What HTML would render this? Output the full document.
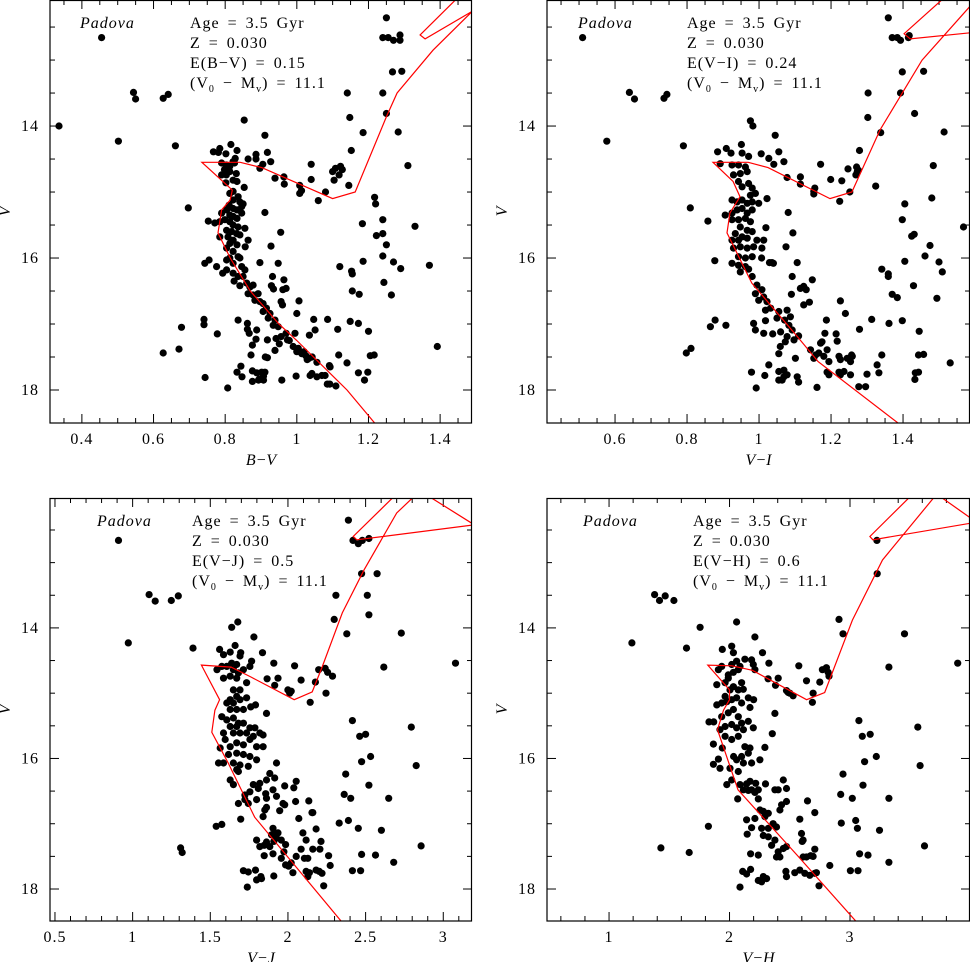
<!DOCTYPE html>
<html><head><meta charset="utf-8"><style>
html,body{margin:0;padding:0;background:#fff;}
svg{display:block;font-family:"Liberation Serif",serif;}
</style></head><body>
<svg id="chart" width="970" height="962" viewBox="0 0 970 962" xmlns="http://www.w3.org/2000/svg"></svg>
<script>
// ---------- DATA ----------
const starsBV = [[0.455,12.66],[0.336,14.0],[0.502,14.23],[0.544,13.49],[0.55,13.59],[0.627,13.58],[0.641,13.52],[0.661,14.30],[0.853,13.91],[0.697,15.24],[0.911,14.14],[1.25,12.36],[1.24,12.66],[1.255,12.66],[1.27,12.7],[1.288,12.62],[1.288,12.7],[1.267,13.18],[1.293,13.17],[1.141,13.5],[1.24,13.5],[1.148,13.87],[1.25,13.81],[1.185,14.1],[1.283,14.09],[1.152,14.37],[1.31,14.6],[1.04,14.58],[1.04,14.81],[1.10,14.69],[1.108,14.64],[1.122,14.61],[1.118,14.74],[1.127,14.66],[1.104,14.82],[1.145,14.9],[1.08,15.0],[1.06,15.13],[1.008,14.9],[1.013,14.98],[1.008,15.02],[0.939,14.79],[0.964,14.77],[0.965,14.88],[0.897,14.64],[0.905,14.58],[0.927,14.54],[0.886,14.43],[0.886,14.5],[0.918,14.4],[0.864,14.5],[0.911,15.31],[1.217,15.08],[1.22,15.18],[1.24,15.42],[1.183,15.48],[1.33,15.52],[1.222,15.66],[1.24,15.63],[1.25,15.8],[0.955,15.61],[0.928,15.82],[1.185,16.05],[1.24,15.97],[1.27,16.06],[1.37,16.11],[1.29,16.16],[1.12,16.13],[1.153,16.2],[1.155,16.24],[1.243,16.37],[1.155,16.5],[1.174,16.55],[1.264,16.56],[0.897,16.07],[0.948,16.08],[0.932,16.28],[0.964,16.33],[0.929,16.42],[0.935,16.47],[0.961,16.48],[0.97,16.46],[0.956,16.66],[0.96,16.71],[1.006,16.65],[1.0,16.84],[1.047,16.93],[1.086,16.93],[1.114,17.08],[1.149,16.96],[1.172,16.99],[1.2,17.11],[1.051,17.09],[1.035,17.17],[0.995,17.14],[1.117,17.47],[1.14,17.59],[1.205,17.48],[1.216,17.47],[1.392,17.34],[1.172,17.74],[1.198,17.73],[1.189,17.85],[1.091,17.63],[1.093,17.65],[1.056,17.58],[1.085,17.91],[1.092,17.91],[1.109,17.94],[0.998,17.79],[1.042,17.75],[1.037,17.78],[1.056,17.8],[1.07,17.78],[1.079,17.78],[1.02,17.42],[1.025,17.48],[1.034,17.52],[1.043,17.5],[1.029,17.54],[0.99,17.34],[1.0,17.42],[1.004,17.37],[1.014,17.45],[0.97,17.14],[0.974,17.24],[0.979,17.25],[0.956,17.19],[0.942,17.22],[0.951,17.3],[0.918,17.24],[0.939,17.4],[0.912,17.5],[0.918,17.51],[0.886,17.23],[0.888,17.09],[0.862,17.08],[0.867,17.14],[0.862,16.99],[0.836,16.94],[0.876,17.32],[0.872,17.47],[0.844,17.64],[0.833,17.73],[0.847,17.8],[0.876,17.71],[0.888,17.74],[0.902,17.73],[0.896,17.83],[0.907,17.79],[0.911,17.73],[0.876,17.87],[0.893,17.85],[0.907,17.85],[0.958,17.85],[0.807,17.97],[0.741,16.93],[0.741,17.01],[0.678,17.05],[0.778,17.15],[0.671,17.38],[0.627,17.44],[0.744,17.81],[0.767,14.39],[0.781,14.4],[0.785,14.34],[0.802,14.42],[0.816,14.28],[0.833,14.37],[0.828,14.49],[0.822,14.54],[0.79,14.56],[0.803,14.59],[0.813,14.61],[0.826,14.56],[0.798,14.66],[0.813,14.69],[0.831,14.72],[0.79,14.74],[0.803,14.74],[0.822,14.82],[0.833,14.84],[0.802,14.86],[0.853,14.93],[0.822,14.99],[0.813,15.02],[0.836,15.07],[0.822,15.12],[0.841,15.15],[0.85,15.18],[0.811,15.2],[0.822,15.25],[0.833,15.27],[0.846,15.22],[0.804,15.27],[0.813,15.35],[0.822,15.37],[0.833,15.4],[0.846,15.32],[0.79,15.32],[0.799,15.42],[0.785,15.45],[0.813,15.45],[0.822,15.5],[0.836,15.53],[0.855,15.55],[0.804,15.58],[0.818,15.6],[0.832,15.63],[0.841,15.65],[0.864,15.73],[0.808,15.68],[0.822,15.73],[0.785,15.68],[0.813,15.78],[0.833,15.8],[0.856,15.83],[0.804,15.85],[0.822,15.9],[0.836,15.98],[0.841,16.0],[0.813,16.0],[0.822,16.08],[0.804,16.03],[0.846,16.13],[0.855,16.18],[0.822,16.23],[0.836,16.28],[0.85,16.28],[0.776,16.13],[0.755,16.03],[0.743,16.08],[0.804,16.18],[0.753,15.44],[0.771,15.47],[0.793,16.23],[0.825,16.35],[0.841,16.42],[0.86,16.38],[0.869,16.44],[0.878,16.41],[0.864,16.54],[0.878,16.56],[0.892,16.54],[0.897,16.66],[0.883,16.64],[0.906,16.69],[0.915,16.76],[0.906,16.81],[0.925,16.84],[0.92,16.91],[0.939,16.94],[0.934,17.02],[0.948,17.04]];
const starsVI = [[0.51,12.66],[0.577,14.23],[0.64,13.49],[0.654,13.59],[0.736,13.58],[0.744,13.52],[0.79,14.3],[0.809,15.24],[0.858,15.44],[0.877,16.04],[0.878,16.94],[0.865,17.04],[0.908,17.02],[0.798,17.44],[0.811,17.37],[0.976,13.92],[0.983,14.0],[1.045,14.14],[1.359,12.36],[1.37,12.66],[1.384,12.66],[1.393,12.7],[1.417,12.63],[1.415,12.66],[1.398,13.18],[1.457,13.17],[1.303,13.5],[1.393,13.5],[1.302,13.87],[1.432,13.81],[1.338,14.1],[1.514,14.09],[1.279,14.37],[1.484,14.6],[1.171,14.58],[1.199,14.81],[1.23,14.83],[1.247,14.65],[1.271,14.62],[1.273,14.69],[1.269,14.74],[1.276,14.67],[1.324,14.91],[1.252,15.0],[1.224,15.14],[1.152,14.99],[1.155,14.94],[1.152,15.03],[1.078,14.78],[1.115,14.77],[1.115,14.88],[1.041,14.58],[1.027,14.49],[1.069,14.54],[1.006,14.42],[1.055,14.39],[1.081,15.31],[1.405,15.18],[1.48,15.09],[1.398,15.42],[1.568,15.53],[1.424,15.67],[1.431,15.64],[1.475,15.81],[1.094,15.62],[1.075,15.83],[1.405,16.05],[1.461,15.97],[1.5,16.06],[1.509,16.21],[1.341,16.17],[1.359,16.24],[1.359,16.28],[1.429,16.42],[1.37,16.55],[1.384,16.6],[1.494,16.61],[1.106,16.07],[1.029,16.07],[1.036,16.07],[1.092,16.28],[1.148,16.33],[1.115,16.46],[1.124,16.43],[1.131,16.48],[1.09,16.55],[1.14,16.67],[1.124,16.71],[1.226,16.65],[1.24,16.84],[1.187,16.94],[1.313,16.93],[1.279,17.08],[1.361,16.99],[1.398,16.95],[1.445,17.11],[1.214,17.15],[1.217,17.26],[1.183,17.14],[1.341,17.47],[1.443,17.47],[1.457,17.46],[1.531,17.59],[1.434,17.74],[1.443,17.73],[1.433,17.84],[1.328,17.62],[1.333,17.74],[1.296,17.95],[1.3,17.76],[1.277,17.95],[1.222,17.73],[1.226,17.77],[1.236,17.72],[1.194,17.77],[1.189,17.73],[1.254,17.77],[1.161,17.96],[1.245,17.52],[1.259,17.49],[1.254,17.57],[1.222,17.49],[1.226,17.54],[1.257,17.47],[1.143,17.39],[1.157,17.47],[1.152,17.52],[1.166,17.44],[1.18,17.49],[1.194,17.57],[1.175,17.27],[1.189,17.39],[1.171,17.29],[1.101,17.52],[1.097,17.24],[1.073,17.27],[1.055,17.45],[1.059,17.34],[1.078,17.19],[1.11,17.18],[1.013,17.14],[1.038,17.15],[0.99,17.09],[0.985,16.99],[1.018,16.95],[1.027,17.62],[1.055,17.72],[1.069,17.7],[1.078,17.77],[1.064,17.85],[1.055,17.85],[1.069,17.8],[1.106,17.8],[1.11,17.88],[0.979,17.73],[1.016,17.78],[0.992,17.97],[1.032,16.76],[1.055,16.81],[1.05,16.91],[1.078,16.79],[1.087,16.89],[1.071,16.94],[1.083,17.02],[1.092,17.09],[1.06,17.12],[0.981,16.28],[0.994,16.41],[1.008,16.48],[0.99,16.54],[1.013,16.59],[0.999,16.64],[1.022,16.66],[1.018,16.79],[0.885,14.39],[0.909,14.34],[0.922,14.41],[0.951,14.28],[0.953,14.41],[0.971,14.46],[0.892,14.57],[0.925,14.59],[0.943,14.59],[0.962,14.62],[0.929,14.74],[0.948,14.72],[0.967,14.69],[0.943,14.84],[0.971,14.87],[0.953,14.92],[0.981,14.94],[0.99,15.02],[0.976,15.05],[0.925,15.12],[0.939,15.15],[0.953,15.12],[0.967,15.17],[0.981,15.15],[0.999,15.17],[1.022,15.1],[0.906,15.35],[0.925,15.32],[0.939,15.27],[0.953,15.25],[0.967,15.32],[0.981,15.27],[0.925,15.42],[0.943,15.42],[0.962,15.4],[0.976,15.45],[0.948,15.53],[0.967,15.58],[0.981,15.6],[0.934,15.63],[0.953,15.68],[0.925,15.73],[0.943,15.73],[0.967,15.7],[0.994,15.73],[1.013,15.73],[0.929,15.85],[0.948,15.83],[0.967,15.85],[0.985,15.83],[1.008,15.85],[0.943,15.98],[0.962,16.0],[0.981,15.98],[0.925,16.08],[0.943,16.11],[0.962,16.13],[0.948,16.21],[0.971,16.17],[1.019,15.54],[1.007,16.0],[1.04,16.08]];
const starsVJ = [[0.909,12.66],[0.972,14.23],[1.106,13.49],[1.145,13.59],[1.249,13.58],[1.294,13.51],[1.389,14.31],[1.638,13.99],[1.677,13.91],[1.781,14.14],[2.389,12.35],[2.419,12.66],[2.453,12.71],[2.479,12.66],[2.521,12.63],[2.474,13.17],[2.574,13.17],[2.309,13.5],[2.511,13.5],[2.298,13.87],[2.521,13.8],[2.379,14.09],[2.73,14.08],[3.079,14.54],[2.617,14.6],[2.043,14.58],[2.198,14.64],[2.24,14.62],[2.287,14.74],[2.255,14.68],[2.245,15.0],[2.143,15.14],[2.085,14.8],[2.177,14.83],[2.0,14.95],[2.011,15.0],[2.021,14.97],[1.915,14.88],[1.909,14.54],[1.936,14.77],[1.866,14.78],[1.836,14.38],[1.766,14.51],[1.755,14.59],[1.862,15.31],[2.415,15.42],[2.794,15.52],[2.462,15.66],[2.5,15.63],[2.532,15.97],[2.474,16.05],[2.826,16.11],[2.372,16.24],[2.521,16.41],[2.362,16.55],[2.404,16.61],[2.649,16.61],[2.134,16.65],[2.155,16.83],[2.33,16.99],[2.389,16.95],[2.453,17.07],[2.602,17.1],[2.857,17.34],[2.564,17.48],[2.474,17.47],[2.681,17.59],[2.415,17.72],[2.468,17.72],[2.262,17.49],[2.272,17.64],[2.23,17.95],[2.181,17.71],[2.202,17.73],[2.138,17.75],[2.128,17.81],[2.117,17.73],[2.219,17.76],[2.032,17.75],[2.106,17.53],[2.128,17.53],[2.053,17.5],[2.085,17.39],[2.117,17.25],[2.16,17.39],[2.206,17.39],[2.213,17.27],[2.181,17.08],[2.16,16.83],[2.096,17.14],[2.07,16.92],[2.049,16.66],[2.038,16.45],[2.053,16.35],[1.979,16.71],[1.904,17.46],[1.957,17.53],[2.021,17.6],[2.004,17.65],[1.985,17.63],[1.974,17.43],[1.985,17.32],[1.957,17.25],[1.926,17.22],[1.936,17.14],[1.894,17.17],[1.909,17.27],[1.883,17.35],[1.847,17.33],[1.819,17.35],[1.798,17.25],[1.862,17.28],[1.904,17.07],[1.915,17.14],[1.84,16.89],[1.851,16.79],[1.862,16.75],[1.947,16.8],[1.968,16.69],[1.926,16.58],[1.979,16.42],[1.904,16.48],[1.862,16.61],[1.809,16.46],[1.755,16.51],[1.723,16.56],[1.777,16.4],[1.745,16.69],[1.681,16.69],[1.696,16.93],[1.723,16.63],[1.798,16.63],[1.857,16.54],[1.926,16.07],[1.883,16.23],[1.915,16.3],[1.862,16.33],[1.819,16.38],[1.745,17.74],[1.713,17.72],[1.791,17.71],[1.83,17.84],[1.826,17.81],[1.798,17.86],[1.738,17.97],[1.909,17.8],[1.847,17.49],[1.538,17.04],[1.574,17.01],[1.309,17.37],[1.319,17.44],[1.56,14.33],[1.585,14.41],[1.628,14.37],[1.66,14.27],[1.691,14.43],[1.696,14.38],[1.543,14.64],[1.574,14.59],[1.606,14.59],[1.638,14.54],[1.67,14.56],[1.649,14.64],[1.681,14.69],[1.628,14.74],[1.585,14.77],[1.67,14.77],[1.713,14.64],[1.734,14.84],[1.649,14.95],[1.691,14.95],[1.67,15.05],[1.628,15.1],[1.606,15.15],[1.649,15.15],[1.691,15.1],[1.734,15.07],[1.76,15.21],[1.791,15.18],[1.628,15.25],[1.67,15.25],[1.713,15.25],[1.574,15.36],[1.606,15.41],[1.649,15.38],[1.681,15.46],[1.713,15.46],[1.755,15.53],[1.787,15.53],[1.819,15.61],[1.628,15.51],[1.67,15.51],[1.585,15.61],[1.649,15.61],[1.691,15.61],[1.734,15.61],[1.777,15.66],[1.84,15.64],[1.596,15.71],[1.628,15.82],[1.67,15.76],[1.713,15.79],[1.755,15.71],[1.798,15.82],[1.84,15.82],[1.564,15.84],[1.617,15.94],[1.67,15.92],[1.713,15.94],[1.755,15.97],[1.798,16.02],[1.553,16.07],[1.585,16.07],[1.649,16.07],[1.691,16.1],[1.745,16.12],[1.67,16.17],[1.628,16.33],[1.649,16.4],[1.681,16.2]];
const starsVH = [[1.19,14.23],[1.378,13.49],[1.419,13.58],[1.466,13.51],[1.538,13.58],[1.643,14.31],[1.756,13.99],[2.059,13.91],[2.211,14.14],[2.909,13.87],[2.942,14.09],[3.452,14.09],[3.894,14.54],[3.323,14.6],[3.223,12.66],[3.226,13.17],[2.575,14.58],[2.639,14.81],[2.749,14.83],[2.771,14.64],[2.804,14.61],[2.826,14.74],[2.818,14.68],[2.694,15.0],[2.688,15.14],[2.404,14.77],[2.382,14.88],[2.473,14.96],[2.5,15.0],[2.528,15.04],[2.487,14.99],[2.274,14.38],[2.327,14.54],[2.32,14.78],[2.183,14.49],[2.197,14.56],[2.211,14.64],[2.377,15.31],[2.355,15.62],[2.294,15.83],[3.074,15.42],[3.563,15.52],[3.102,15.66],[3.168,15.63],[3.218,15.97],[3.121,16.05],[3.582,16.11],[2.942,16.24],[3.108,16.41],[2.923,16.55],[3.019,16.61],[3.323,16.61],[2.647,16.65],[2.708,16.83],[2.583,16.93],[2.928,16.99],[3.047,16.95],[3.061,17.07],[3.245,17.1],[3.618,17.34],[3.08,17.46],[3.149,17.48],[3.323,17.59],[3.003,17.72],[3.066,17.72],[2.832,17.64],[2.743,17.95],[2.708,17.39],[2.597,17.15],[2.611,17.25],[2.603,17.27],[2.611,17.51],[2.639,17.51],[2.674,17.49],[2.694,17.5],[2.542,17.75],[2.583,17.71],[2.625,17.76],[2.666,17.79],[2.708,17.76],[2.721,17.75],[2.468,17.73],[2.473,17.81],[2.28,17.81],[2.308,17.84],[2.266,17.89],[2.239,17.87],[2.109,17.73],[2.142,17.77],[2.175,17.7],[2.087,17.97],[2.239,17.48],[2.175,17.46],[2.404,17.43],[2.446,17.38],[2.473,17.35],[2.39,17.51],[2.418,17.51],[2.349,17.33],[2.322,17.2],[2.377,17.25],[2.39,17.05],[2.362,17.0],[2.322,17.07],[2.28,17.18],[2.294,16.89],[2.322,16.84],[2.28,16.81],[2.253,16.79],[2.211,16.92],[2.142,16.94],[2.183,17.06],[2.147,17.16],[2.266,17.07],[2.432,16.71],[2.473,16.66],[2.418,16.79],[2.404,16.48],[2.377,16.48],[2.446,16.33],[2.473,16.46],[2.299,16.39],[2.211,16.52],[2.239,16.48],[2.183,16.48],[2.156,16.49],[2.17,16.35],[2.217,16.38],[2.142,16.39],[2.239,16.62],[2.068,16.62],[2.087,16.4],[2.115,16.48],[1.977,16.4],[2.018,16.33],[2.073,16.2],[2.115,16.07],[2.004,16.15],[2.059,16.02],[2.1,15.97],[2.156,15.92],[2.183,16.07],[2.252,16.02],[1.921,16.15],[1.866,16.09],[1.908,16.01],[1.866,15.78],[1.94,15.84],[1.963,15.66],[2.018,15.71],[2.073,15.66],[2.128,15.82],[2.17,15.84],[2.034,15.97],[1.83,15.44],[1.869,15.44],[1.935,15.36],[1.99,15.3],[2.032,15.25],[2.073,15.36],[2.1,15.46],[2.156,15.43],[2.197,15.53],[2.115,15.56],[2.059,15.53],[2.018,15.48],[1.963,15.51],[1.921,15.56],[1.894,15.18],[1.935,15.15],[1.977,15.13],[2.018,15.1],[2.059,15.07],[2.156,15.07],[2.17,15.22],[2.1,15.15],[2.2,15.1],[2.004,14.95],[1.963,14.84],[2.032,14.9],[2.073,14.95],[2.1,14.84],[2.114,14.94],[1.99,14.72],[2.032,14.68],[2.073,14.64],[2.018,14.56],[2.087,14.59],[2.059,14.51],[2.128,14.48],[2.032,14.38],[2.018,14.28],[1.94,14.33],[1.99,14.77],[1.908,14.64],[1.935,14.59],[1.894,14.87],[1.963,15.05],[1.825,17.04],[1.43,17.37],[1.665,17.44]];

const isoBV = [[1.225,18.55],[1.14,18.0],[1.0,17.25],[0.95,17.0],[0.87,16.5],[0.814,16.0],[0.78,15.62],[0.79,15.27],[0.814,15.12],[0.82,14.97],[0.735,14.55],[0.842,14.55],[0.902,14.63],[1.10,15.1],[1.163,15.0],[1.25,13.86],[1.28,13.5],[1.38,12.85],[1.49,12.26],[1.358,12.68],[1.344,12.62],[1.45,12.05]];
const isoVI = [[1.41,18.6],[1.164,17.57],[1.108,17.2],[0.98,16.38],[0.911,15.62],[0.919,15.32],[0.947,15.07],[0.928,14.84],[0.872,14.55],[0.97,14.55],[1.025,14.63],[1.197,15.1],[1.258,15.0],[1.336,14.06],[1.453,13.0],[1.60,12.1],[1.60,12.58],[1.42,12.68],[1.403,12.6],[1.53,11.98]];
const isoVJ = [[2.38,18.6],[1.786,16.9],[1.615,16.07],[1.51,15.6],[1.53,15.26],[1.56,15.1],[1.443,14.57],[1.634,14.6],[1.76,14.75],[2.04,15.1],[2.156,14.98],[2.22,14.6],[2.35,13.77],[2.49,13.11],[2.70,12.24],[2.85,11.9],[3.2,12.42],[2.443,12.65],[2.42,12.6],[2.72,11.9]];
const isoVH = [[3.1,18.6],[2.57,17.5],[2.07,16.48],[1.90,15.56],[1.95,15.26],[2.0,15.1],[2.0,14.95],[1.82,14.57],[2.02,14.58],[2.19,14.65],[2.64,15.1],[2.79,14.99],[3.02,13.88],[3.27,12.96],[3.72,11.95],[4.05,12.38],[3.19,12.65],[3.165,12.6],[3.52,11.95]];

const bvTicks = [0.4,0.6,0.8,1,1.2,1.4];
const viTicks = [0.6,0.8,1,1.2,1.4];
const vjTicks = [0.5,1,1.5,2,2.5,3];
const vhTicks = [1,2,3];
const vTicks = [14,16,18];

// ---------- DRAW ----------
const NS = "http://www.w3.org/2000/svg";
const svg = document.getElementById('chart');
function mk(tag, attrs, parent){const e=document.createElementNS(NS,tag);for(const k in attrs)e.setAttribute(k,attrs[k]);(parent||svg).appendChild(e);return e;}

const panels = [
 {id:'bv', x0:50,x1:472,y0:0,y1:423, xmin:0.311,xmax:1.489, vmin:12.09,vmax:18.5, stars:starsBV, iso:isoBV, ticks:bvTicks, minor:0.05, xlab:'B\u2212V', ered:'E(B\u2212V) = 0.15', padX:80, infoX:190},
 {id:'vi', x0:547,x1:970,y0:0,y1:423, xmin:0.411,xmax:1.586, vmin:12.09,vmax:18.5, stars:starsVI, iso:isoVI, ticks:viTicks, minor:0.05, xlab:'V\u2212I', ered:'E(V\u2212I) = 0.24', padX:578, infoX:687},
 {id:'vj', x0:50,x1:472,y0:498,y1:921, xmin:0.468,xmax:3.185, vmin:12.01,vmax:18.49, stars:starsVJ, iso:isoVJ, ticks:vjTicks, minor:0.1, xlab:'V\u2212J', ered:'E(V\u2212J) = 0.5', padX:97, infoX:192},
 {id:'vh', x0:547,x1:970,y0:498,y1:921, xmin:0.485,xmax:3.996, vmin:12.01,vmax:18.49, stars:starsVH, iso:isoVH, ticks:vhTicks, minor:0.2, xlab:'V\u2212H', ered:'E(V\u2212H) = 0.6', padX:583, infoX:693}
];

panels.forEach(p=>{
  const sx = v => p.x0 + (v - p.xmin)/(p.xmax - p.xmin)*(p.x1 - p.x0);
  const sy = v => p.y0 + (v - p.vmin)/(p.vmax - p.vmin)*(p.y1 - p.y0);
  const g = mk('g',{});
  
  
  const cid = 'clip-'+p.id;
  const cp = mk('clipPath',{id:cid},g);
  mk('rect',{x:p.x0,y:p.y0,width:p.x1-p.x0,height:p.y1-p.y0},cp);

  const tg = mk('g',{stroke:'#000','stroke-width':1},g);
  
  
  const nMin = Math.ceil(p.xmin/p.minor-1e-6), nMax = Math.floor(p.xmax/p.minor+1e-6);
  for(let i=nMin;i<=nMax;i++){
    const v=i*p.minor; const isMaj=p.ticks.some(t=>Math.abs(t-v)<1e-6);
    const L=isMaj?9:5; const x=sx(v);
    mk('line',{x1:x,x2:x,y1:p.y1,y2:p.y1-L},tg);
    mk('line',{x1:x,x2:x,y1:p.y0,y2:p.y0+L},tg);
  }
  for(let v=Math.ceil(p.vmin*2)/2; v<=p.vmax; v+=0.5){
    const isMaj=Math.abs(v-Math.round(v))<1e-6 && Math.round(v)%2===0; const L=isMaj?9:5; const y=sy(v);
    mk('line',{x1:p.x0,x2:p.x0+L,y1:y,y2:y},tg);
    mk('line',{x1:p.x1,x2:p.x1-L,y1:y,y2:y},tg);
  }
  p.ticks.forEach(t=>{
    const tx=mk('text',{x:sx(t),y:p.y1+21,'text-anchor':'middle','font-size':16,'letter-spacing':1},g);
    tx.textContent=String(t);
    
    
  });
  vTicks.forEach(t=>{
    const tx=mk('text',{x:p.x0-11,y:sy(t)+5,'text-anchor':'end','font-size':16,'letter-spacing':1},g);
    tx.textContent=String(t);
    
    
  });
  const xt=mk('text',{x:(p.x0+p.x1)/2,y:p.y1+42,'text-anchor':'middle','font-size':16,'font-style':'italic'},g);
  xt.textContent=p.xlab;
  
  
  const yx=p.x0-40, yy=(p.y0+p.y1)/2;
  const yt=mk('text',{x:yx,y:yy,'text-anchor':'middle','font-size':16,'font-style':'italic',transform:`rotate(-90 ${yx} ${yy})`},g);
  yt.textContent='V';
  
  

  const sg = mk('g',{'clip-path':`url(#${cid})`,fill:'#000'},g);
  
  
  p.stars.forEach(s=>{
    const c=mk('circle',{cx:sx(s[0]).toFixed(1),cy:sy(s[1]).toFixed(1),r:3.6},sg);
    
    
  });
  const d = p.iso.map((q,i)=>(i?'L':'M')+sx(q[0]).toFixed(1)+' '+sy(q[1]).toFixed(1)).join(' ');
  const iso = mk('path',{d:d,fill:'none',stroke:'#f00','stroke-width':1.2,'clip-path':`url(#${cid})`},g);
  
  

  const fr = mk('rect',{x:p.x0,y:p.y0+0.5,width:p.x1-p.x0-0.5,height:p.y1-p.y0-0.5,fill:'none',stroke:'#000','stroke-width':1.2},g);
  
  

  const pad = mk('text',{x:p.padX,y:p.y0+28,'font-size':16,'font-style':'italic','letter-spacing':1},g);
  pad.textContent='Padova';
  
  
  const info = mk('text',{x:p.infoX,y:p.y0+28,'font-size':16,'letter-spacing':1,'word-spacing':3},g);
  
  
  const lines=['Age = 3.5 Gyr','Z = 0.030',p.ered];
  lines.forEach((l,i)=>{const ts=mk('tspan',{x:p.infoX,y:p.y0+28+i*20},info);ts.textContent=l;});
  const l4=mk('tspan',{x:p.infoX,y:p.y0+88},info); l4.textContent='(V';
  const s1=mk('tspan',{'font-size':10,dy:4},info); s1.textContent='0';
  const t2=mk('tspan',{dy:-4},info); t2.textContent=' \u2212 M';
  const s2=mk('tspan',{'font-size':10,dy:4},info); s2.textContent='v';
  const t3=mk('tspan',{dy:-4},info); t3.textContent=') = 11.1';
});
</script>
</body></html>
